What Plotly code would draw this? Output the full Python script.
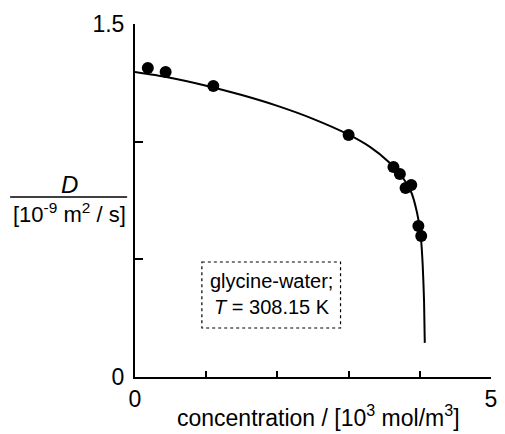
import plotly.graph_objects as go

# Measured diffusion coefficients, glycine in water at 308.15 K
conc_pts = [0.18, 0.43, 1.10, 3.00, 3.63, 3.72, 3.80, 3.88, 3.98, 4.02]
d_pts = [1.313, 1.296, 1.237, 1.028, 0.892, 0.863, 0.803, 0.816, 0.642, 0.599]

# Smoothed model curve
conc_fit = [0.0, 0.44, 1.0, 1.5, 2.0, 2.5, 3.0, 3.3, 3.56, 3.75, 3.88, 3.96, 4.01, 4.04, 4.06, 4.07]
d_fit = [1.296, 1.275, 1.238, 1.198, 1.152, 1.097, 1.030, 0.978, 0.915, 0.852, 0.785, 0.700, 0.610, 0.480, 0.320, 0.145]

x_ticks = [0, 5]
y_ticks = [0, 1.5]

W, H = 505, 434
L, R, T, B = 135, 8, 24, 57
PW, PH = W - L - R, H - T - B


def px(xp):
    return (xp - L) / PW


def py(yp):
    return 1 - (yp - T) / PH


FONT = "Liberation Sans, Arial, Helvetica, sans-serif"

fig = go.Figure()
fig.add_trace(go.Scatter(
    x=conc_fit, y=d_fit, mode="lines",
    line=dict(color="black", width=2, shape="spline", smoothing=0.6),
    hoverinfo="skip", showlegend=False,
))
fig.add_trace(go.Scatter(
    x=conc_pts, y=d_pts, mode="markers",
    marker=dict(color="black", size=12, line=dict(width=0)),
    showlegend=False,
))

axis_common = dict(
    showgrid=False, zeroline=False, showline=True,
    linecolor="black", linewidth=2,
    ticks="inside", tickcolor="black", tickwidth=2,
    tickfont=dict(family=FONT, size=23, color="black"),
)

fig.update_xaxes(
    range=[0, 5], tickvals=x_ticks, ticktext=[str(v) for v in x_ticks],
    ticklen=6,
    minor=dict(dtick=1, ticks="inside", ticklen=6, tickwidth=2, tickcolor="black"),
    **axis_common,
)
fig.update_yaxes(
    range=[0, 1.5], tickvals=y_ticks, ticktext=["0", "1.5"],
    ticklen=8, ticklabelstandoff=4,
    minor=dict(dtick=0.5, ticks="inside", ticklen=8, tickwidth=2, tickcolor="black"),
    **axis_common,
)


def label(xp, yp, text, size):
    return dict(x=px(xp), y=py(yp), xref="paper", yref="paper",
                xanchor="center", yanchor="middle",
                text=text, showarrow=False,
                font=dict(family=FONT, size=size, color="black"))


annotations = [
    # x-axis title
    label(322, 416, "concentration / [10<sup>3</sup> mol/m<sup>3</sup>]", 23),
    # y-axis title as a fraction
    label(68, 184, "<i>D</i>", 24),
    label(68, 213, "[10<sup>-9</sup> m<sup>2</sup> / s]", 22),
    # legend box text
    label(274, 281, "glycine-water;", 20),
    label(274, 307, "<i>T</i> = 308.15 K", 20),
]

shapes = [
    dict(type="line", xref="paper", yref="paper",
         x0=px(8), x1=px(127), y0=py(197), y1=py(197),
         line=dict(color="black", width=1.5)),
    dict(type="rect", xref="paper", yref="paper",
         x0=px(203), x1=px(344), y0=py(262), y1=py(328),
         line=dict(color="black", width=1.2, dash="dot")),
]

fig.update_layout(
    width=W, height=H,
    margin=dict(l=L, r=R, t=T, b=B),
    plot_bgcolor="white", paper_bgcolor="white",
    annotations=annotations, shapes=shapes,
    font=dict(family=FONT, color="black"),
)

fig.write_html("out.html")
